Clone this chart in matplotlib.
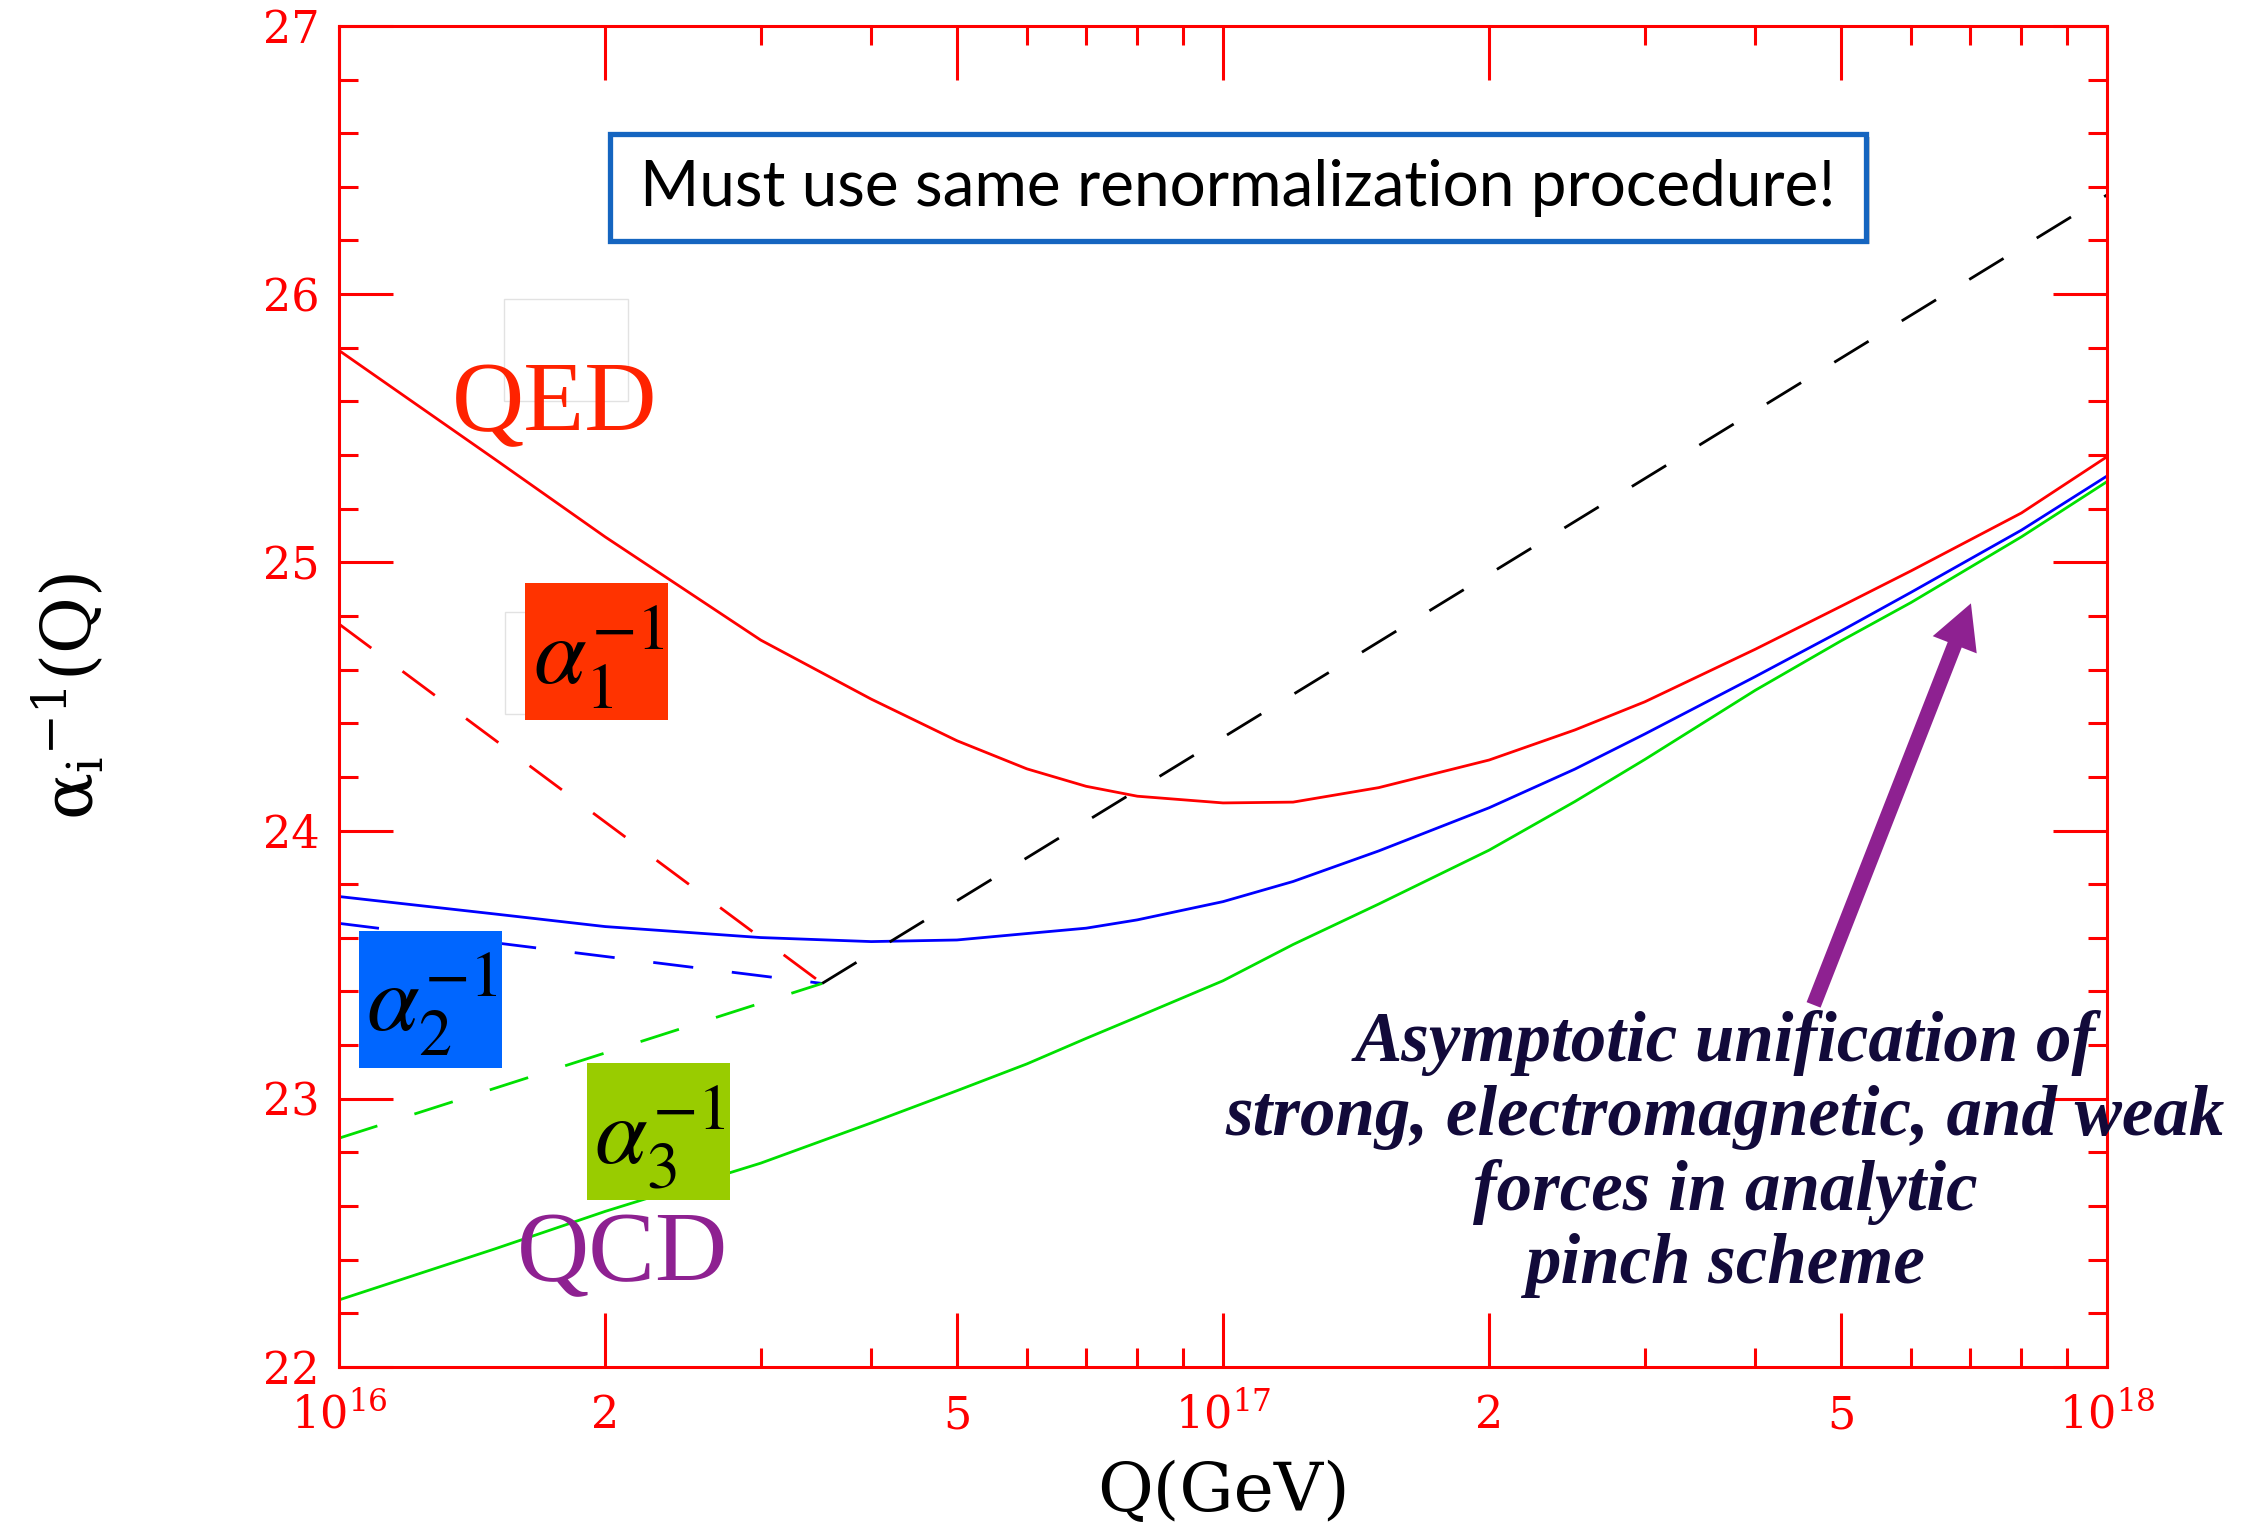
import matplotlib
matplotlib.use('Agg')
import matplotlib.pyplot as plt
from matplotlib.patches import Rectangle, FancyArrowPatch
from matplotlib.ticker import FixedLocator, FixedFormatter, MultipleLocator, NullFormatter

plt.rcParams['lines.scale_dashes'] = False
plt.rcParams['font.family'] = ['DejaVu Serif']

# running couplings, Q in GeV
q = [1.0e16, 1.5e16, 2.0e16, 3.0e16, 4.0e16, 5.0e16, 6.0e16, 7.0e16, 8.0e16, 1.0e17,
     1.2e17, 1.5e17, 2.0e17, 2.5e17, 3.0e17, 4.0e17, 5.0e17, 6.0e17, 8.0e17, 1.0e18]
qed = [25.79, 25.385, 25.095, 24.71, 24.49, 24.335, 24.23, 24.165, 24.128, 24.103,
       24.106, 24.16, 24.263, 24.375, 24.48, 24.676, 24.836, 24.968, 25.184, 25.394]
weak = [23.754, 23.689, 23.642, 23.601, 23.586, 23.592, 23.616, 23.636, 23.667, 23.735,
        23.81, 23.924, 24.085, 24.229, 24.36, 24.574, 24.744, 24.888, 25.12, 25.322]
qcd = [22.25, 22.44, 22.58, 22.76, 22.91, 23.03, 23.13, 23.225, 23.305, 23.44,
       23.575, 23.726, 23.927, 24.108, 24.265, 24.523, 24.707, 24.85, 25.095, 25.301]

# dashed asymptotic lines
q_low = [1.0e16, 3.52e16]
a1_dash = [24.77, 23.43]
a2_dash = [23.654, 23.43]
a3_dash = [22.853, 23.43]
q_high = [3.52e16, 1.0e18]
unif_dash = [23.43, 26.37]

x_major = [1e16, 2e16, 5e16, 1e17, 2e17, 5e17, 1e18]
x_labels = [r'$\mathregular{10^{16}}$', '2', '5', r'$\mathregular{10^{17}}$', '2', '5',
            r'$\mathregular{10^{18}}$']
x_minor = [3e16, 4e16, 6e16, 7e16, 8e16, 9e16, 3e17, 4e17, 6e17, 7e17, 8e17, 9e17]

fig = plt.figure(figsize=(22.63, 15.33), dpi=100)
ax = fig.add_axes([0.1498, 0.1083, 0.7813, 0.8748])
ax.set_xscale('log')

dash = (0, (29, 28))
ax.plot(q, qed, color='#ff0000', lw=2)
ax.plot(q, weak, color='#0000ff', lw=2)
ax.plot(q, qcd, color='#00e000', lw=2)
ax.plot(q_low, a1_dash, color='#ff0000', lw=2, linestyle=dash)
ax.plot(q_low, a2_dash, color='#0000ff', lw=2, linestyle=dash)
ax.plot(q_low, a3_dash, color='#00e000', lw=2, linestyle=dash)
ax.plot(q_high, unif_dash, color='black', lw=2, linestyle=dash)

ax.set_xlim(1e16, 1e18)
ax.set_ylim(22, 27)

ax.xaxis.set_major_locator(FixedLocator(x_major))
ax.xaxis.set_major_formatter(FixedFormatter(x_labels))
ax.xaxis.set_minor_locator(FixedLocator(x_minor))
ax.xaxis.set_minor_formatter(NullFormatter())
ax.yaxis.set_major_locator(MultipleLocator(1))
ax.yaxis.set_minor_locator(MultipleLocator(0.2))

ax.tick_params(which='both', direction='in', top=True, right=True, color='red',
               labelcolor='red', width=2.2, labelsize=32)
ax.tick_params(which='major', length=39)
ax.tick_params(which='minor', length=14)
ax.tick_params(axis='y', pad=14)
ax.tick_params(axis='x', pad=44)
for lab in ax.get_xticklabels():
    lab.set_verticalalignment('baseline')
for sp in ax.spines.values():
    sp.set_edgecolor('red')
    sp.set_linewidth(2.2)

ax.set_xlabel('Q(GeV)', fontsize=49, va='top')
ax.xaxis.set_label_coords(0.5, -0.069)
ax.set_ylabel(r'$\mathregular{\alpha_i{}^{-1}}$(Q)', fontsize=50)
ax.yaxis.set_label_coords(-0.131, 0.5)

# headline box
ax.add_patch(Rectangle((0.1553, 0.8372), 0.7104, 0.0798, transform=ax.transAxes,
                       facecolor='#9a9a9a', edgecolor='none', alpha=0.5, zorder=4))
ax.add_patch(Rectangle((0.1533, 0.8397), 0.7104, 0.0798, transform=ax.transAxes,
                       facecolor='white', edgecolor='#1565c0', lw=3.8, zorder=5))
ax.text(0.5085, 0.879, 'Must use same renormalization procedure!', transform=ax.transAxes,
        ha='center', va='center', fontsize=46, family='Lato', color='black', zorder=6)

# faint leftover frames
ax.add_patch(Rectangle((0.0933, 0.7204), 0.0702, 0.076, transform=ax.transAxes,
                       facecolor='none', edgecolor='#e2e2e2', lw=1, zorder=3))
ax.add_patch(Rectangle((0.0939, 0.4870), 0.0701, 0.076, transform=ax.transAxes,
                       facecolor='none', edgecolor='#e2e2e2', lw=1, zorder=3))

# coloured coupling labels
boxes = [((0.1052, 0.4826), '#ff3300', r'$\alpha_1^{-1}$'),
         ((0.0112, 0.2233), '#0066ff', r'$\alpha_2^{-1}$'),
         ((0.1401, 0.1248), '#99cc00', r'$\alpha_3^{-1}$')]
for (bx, by), col, lab in boxes:
    ax.add_patch(Rectangle((bx, by), 0.081, 0.1017, transform=ax.transAxes,
                           facecolor=col, edgecolor='none', zorder=5))
    ax.text(bx + 0.0415, by + 0.047, lab, transform=ax.transAxes, ha='center', va='center',
            fontsize=68, math_fontfamily='stix', color='black', zorder=6)

ax.text(0.1219, 0.6987, 'QED', transform=ax.transAxes, ha='center', va='baseline',
        fontsize=72, family='Liberation Serif', color='#ff2200', zorder=6)
ax.text(0.1606, 0.0649, 'QCD', transform=ax.transAxes, ha='center', va='baseline',
        fontsize=72, family='Liberation Serif', color='#8e2191', zorder=6)

ax.text(0.784, 0.0626,
        'Asymptotic unification of\nstrong, electromagnetic, and weak\nforces in analytic\npinch scheme',
        transform=ax.transAxes, ha='center', va='baseline', multialignment='center',
        fontsize=51, family='Liberation Serif', weight='bold', style='italic',
        color='#120a3a', linespacing=1.17, zorder=6)

arrow = FancyArrowPatch((10 ** 17.668, 23.35), (10 ** 17.846, 24.847),
                        arrowstyle='simple, head_length=32, head_width=34, tail_width=10.8',
                        mutation_scale=1, shrinkA=0, shrinkB=0, color='#8e2191', lw=0, zorder=6)
ax.add_patch(arrow)

fig.savefig('out.png', dpi=100)
